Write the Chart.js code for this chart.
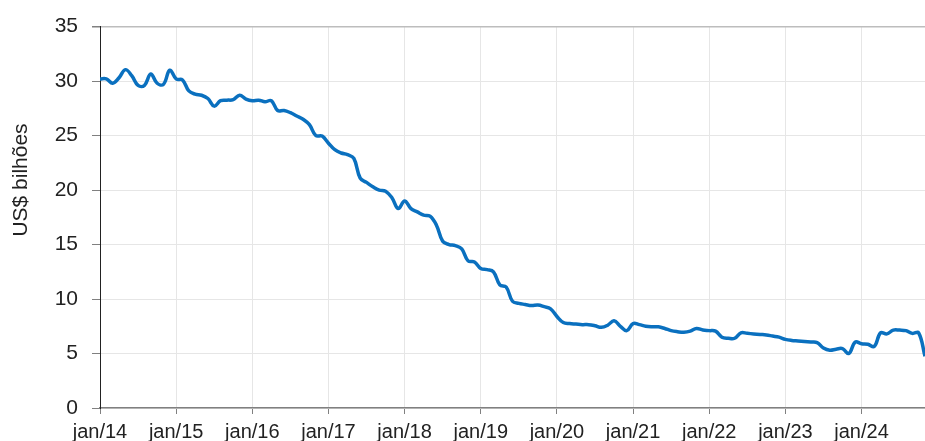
<!DOCTYPE html>
<html>
<head>
<meta charset="utf-8">
<script src="https://cdn.jsdelivr.net/npm/chart.js@4"></script>
<style>
  html, body { margin: 0; padding: 0; background: #fff; overflow: hidden; }
  #wrap { width: 925px; height: 441px; }
</style>
</head>
<body>
<div id="wrap"><canvas id="chart"></canvas></div>
<script>
// meses jan/14 .. nov/24
const monthNames = ["jan", "fev", "mar", "abr", "mai", "jun", "jul", "ago", "set", "out", "nov", "dez"];
const years = ["14", "15", "16", "17", "18", "19", "20", "21", "22", "23", "24"];

const values2014 = [30.2, 30.2, 29.8, 30.3, 31.05, 30.5, 29.6, 29.6, 30.65, 29.8, 29.7, 31.0];
const values2015 = [30.2, 30.1, 29.1, 28.8, 28.7, 28.4, 27.7, 28.2, 28.25, 28.3, 28.7, 28.35];
const values2016 = [28.2, 28.25, 28.1, 28.2, 27.3, 27.3, 27.1, 26.8, 26.5, 26.0, 25.0, 24.95];
const values2017 = [24.3, 23.7, 23.4, 23.25, 22.9, 21.1, 20.7, 20.3, 20.0, 19.9, 19.3, 18.3];
const values2018 = [19.0, 18.3, 18.0, 17.7, 17.6, 16.8, 15.3, 15.0, 14.9, 14.6, 13.5, 13.4];
const values2019 = [12.8, 12.7, 12.5, 11.3, 11.1, 9.8, 9.6, 9.5, 9.4, 9.45, 9.3, 9.1];
const values2020 = [8.4, 7.85, 7.75, 7.7, 7.65, 7.65, 7.55, 7.4, 7.6, 8.0, 7.5, 7.1];
const values2021 = [7.75, 7.65, 7.5, 7.45, 7.45, 7.3, 7.1, 7.0, 6.95, 7.05, 7.3, 7.15];
const values2022 = [7.1, 7.05, 6.5, 6.4, 6.4, 6.9, 6.85, 6.8, 6.75, 6.7, 6.6, 6.5];
const values2023 = [6.3, 6.2, 6.15, 6.1, 6.05, 6.0, 5.5, 5.3, 5.4, 5.45, 5.0, 6.05];
const values2024 = [5.9, 5.85, 5.65, 6.9, 6.8, 7.15, 7.15, 7.1, 6.85, 6.9, 4.75];

const values = [].concat(values2014, values2015, values2016, values2017, values2018, values2019,
    values2020, values2021, values2022, values2023, values2024);

const labels = [];
years.forEach(y => monthNames.forEach(m => labels.push(m + "/" + y)));
labels.length = values.length;

const yTitle = "US$ bilhões";
const FONT = "'Liberation Sans', Arial, sans-serif";

// titulo do eixo y desenhado a mao (fica acima do centro no original)
const yTitlePlugin = {
    id: "yTitle",
    afterDraw(chart) {
        const ctx = chart.ctx;
        ctx.save();
        ctx.translate(21, 180);
        ctx.rotate(-Math.PI / 2);
        ctx.font = "21px " + FONT;
        ctx.fillStyle = "#222";
        ctx.textAlign = "center";
        ctx.textBaseline = "middle";
        ctx.fillText(yTitle, 0, 0);
        ctx.restore();
    }
};

new Chart(document.getElementById("chart"), {
    type: "line",
    data: {
        labels: labels,
        datasets: [{
            data: values,
            borderColor: "#0a70bf",
            borderWidth: 3.5,
            pointRadius: 0,
            tension: 0.4,
            fill: false
        }]
    },
    options: {
        responsive: true,
        maintainAspectRatio: false,
        animation: false,
        layout: { padding: { top: 25, right: 0, left: 0, bottom: 0 } },
        plugins: {
            legend: { display: false },
            tooltip: { enabled: false }
        },
        scales: {
            x: {
                afterFit(scale) { scale.height = 33; },
                border: { color: "#808080", width: 1.5 },
                grid: {
                    color: "#e6e6e6",
                    tickColor: "#808080",
                    tickLength: 6
                },
                ticks: {
                    autoSkip: false,
                    maxRotation: 0,
                    color: "#222",
                    font: { family: FONT, size: 20 },
                    padding: 6,
                    callback: function (val, i) {
                        return i % 12 === 0 ? this.getLabelForValue(val) : null;
                    }
                }
            },
            y: {
                min: 0,
                max: 35,
                afterFit(scale) { scale.width = 100; },
                border: { color: "#222", width: 1 },
                grid: {
                    color: ctx => ctx.tick && ctx.tick.value === 35 ? "#bdbdbd" : "#e6e6e6",
                    lineWidth: ctx => ctx.tick && ctx.tick.value === 35 ? 1.5 : 1,
                    tickColor: "#808080",
                    tickLength: 8
                },
                ticks: {
                    stepSize: 5,
                    color: "#222",
                    font: { family: FONT, size: 21 },
                    padding: 14
                }
            }
        }
    },
    plugins: [yTitlePlugin]
});
</script>
</body>
</html>
